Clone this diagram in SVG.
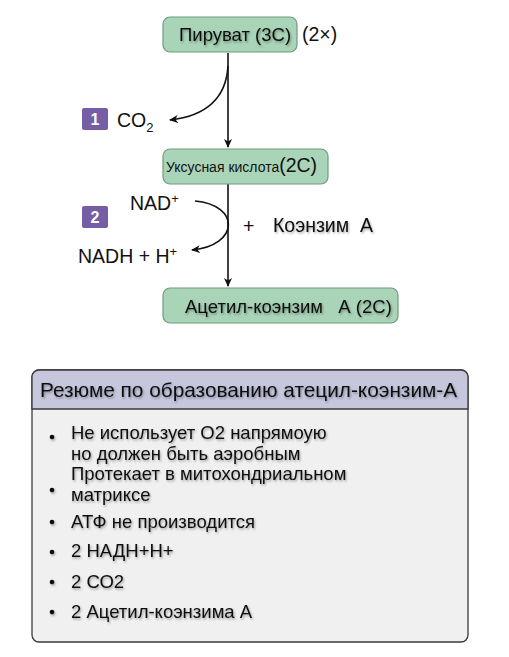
<svg xmlns="http://www.w3.org/2000/svg" width="509" height="657" viewBox="0 0 509 657">
<style>
text{font-family:"Liberation Sans",Arial,sans-serif;fill:#111}
.node{fill:#a9d4b8;stroke:#6e9c7e;stroke-width:1.2}
.lbl{font-size:18.5px}
.big{font-size:19.5px}
.badge{fill:#765ea6}
.bn{fill:#fff;font-weight:bold;font-size:16px}
.line{fill:none;stroke:#111;stroke-width:1.6}
.sh{filter:url(#ts)}
.item{font-size:18.5px}
</style>
<defs>
<marker id="ah" markerWidth="10" markerHeight="10" refX="8" refY="5" orient="auto" markerUnits="userSpaceOnUse">
<path d="M0,1 L9,5 L0,9 L2.5,5 Z" fill="#111"/>
</marker>
<filter id="ts" x="-10%" y="-30%" width="120%" height="160%">
<feDropShadow dx="1" dy="1.5" stdDeviation="1.2" flood-color="#000" flood-opacity="0.35"/>
</filter>
</defs>

<g id="connectors">
<line class="line" x1="228" y1="53" x2="228" y2="147" marker-end="url(#ah)"/>
<path class="line" d="M228,66 C226,100 205,116 170,120" marker-end="url(#ah)"/>
<line class="line" x1="228" y1="184" x2="228" y2="286" marker-end="url(#ah)"/>
<path class="line" d="M195,201 C240,205 240,245 192,250" marker-end="url(#ah)"/>
</g>

<g id="pyruvate">
<rect class="node" x="163" y="17" width="134" height="35" rx="7"/>
<text class="lbl sh" x="179" y="41">Пируват (3С)</text>
<text class="big" x="302" y="41">(2×)</text>
</g>

<g id="step1">
<rect class="badge" x="82" y="108" width="26" height="22" rx="2"/>
<text class="bn" x="95" y="125" text-anchor="middle">1</text>
<text class="big" x="117" y="127">CO<tspan font-size="13" dy="5">2</tspan></text>
</g>

<g id="acetic">
<rect class="node" x="163" y="149" width="165" height="35" rx="7"/>
<text x="166" y="172"><tspan font-size="14">Уксусная кислота</tspan><tspan font-size="19.5">(2С)</tspan></text>
</g>

<g id="step2">
<rect class="badge" x="82" y="206" width="26" height="22" rx="2"/>
<text class="bn" x="95" y="223" text-anchor="middle">2</text>
<text class="big" x="130" y="210">NAD<tspan font-size="13" dy="-7">+</tspan></text>
<text class="big" x="78" y="263">NADH + H<tspan font-size="13" dy="-7">+</tspan></text>
</g>

<g id="coenzyme">
<text class="big" x="243" y="233">+</text>
<text class="big sh" x="273" y="232" xml:space="preserve">Коэнзим  А</text>
</g>

<g id="acetylcoa">
<rect class="node" x="163" y="288" width="235" height="35" rx="7"/>
<text class="lbl sh" x="185" y="313" xml:space="preserve">Ацетил-коэнзим   А (2С)</text>
</g>

<g id="summary">
<rect x="32" y="370" width="436" height="272" rx="7" fill="#f0f0f0" stroke="#3a3a3a" stroke-width="1.3"/>
<path d="M32,409 V377 a7,7 0 0 1 7,-7 H461 a7,7 0 0 1 7,7 V409 Z" fill="#c6c7dd" stroke="#3a3a3a" stroke-width="1.3"/>
<text class="sh" x="40" y="397" font-size="20.8">Резюме по образованию атецил-коэнзим-А</text>
<g class="sh">
<circle cx="52" cy="437" r="2.3" fill="#111"/>
<text class="item" x="71" y="439">Не использует О2 напрямоую</text>
<text class="item" x="71" y="460">но должен быть аэробным</text>
<circle cx="52" cy="490" r="2.3" fill="#111"/>
<text class="item" x="71" y="480">Протекает в митохондриальном</text>
<text class="item" x="71" y="501">матриксе</text>
<circle cx="52" cy="522" r="2.3" fill="#111"/>
<text class="item" x="71" y="528">АТФ не производится</text>
<circle cx="52" cy="552" r="2.3" fill="#111"/>
<text class="item" x="71" y="557">2 НАДН+Н+</text>
<circle cx="52" cy="582" r="2.3" fill="#111"/>
<text class="item" x="71" y="588">2 СО2</text>
<circle cx="52" cy="612" r="2.3" fill="#111"/>
<text class="item" x="71" y="618">2 Ацетил-коэнзима А</text>
</g>
</g>
</svg>
